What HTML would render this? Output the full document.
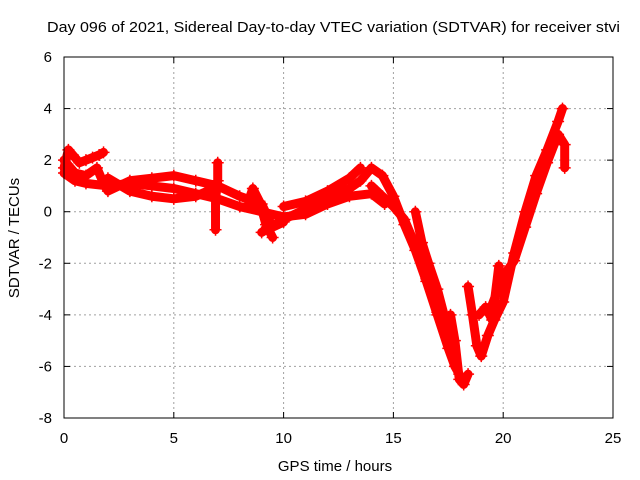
<!DOCTYPE html>
<html><head><meta charset="utf-8"><style>
body{margin:0;background:#fff;}
svg{display:block;font-family:"Liberation Sans",sans-serif;}
</style></head><body>
<svg id="chart" width="640" height="480">
<text x="47" y="32" font-size="15" textLength="573" lengthAdjust="spacingAndGlyphs">Day 096 of 2021, Sidereal Day-to-day VTEC variation (SDTVAR) for receiver stvi</text>
<g id="grid"></g>
<g id="ticks"></g>
<g id="marks"></g>
<rect x="64" y="57" width="549" height="361" fill="none" stroke="#000" stroke-width="1"/>
<text x="335" y="471" font-size="15" text-anchor="middle">GPS time / hours</text>
<text transform="translate(19,238) rotate(-90)" font-size="15" text-anchor="middle">SDTVAR / TECUs</text>
</svg>
<script>
const xTicks=[0,5,10,15,20,25];
const yTicks=[6,4,2,0,-2,-4,-6,-8];
const trackA_t=[0,0.2,0.4,0.7,1.0,1.3,1.6,1.8];
const trackA_v=[1.7,2.4,2.2,1.9,2.0,2.1,2.2,2.3];
const trackB_t=[0,0.5,1,2,3,4,5,6,7,8,9,10,11,12,13,14,14.6];
const trackB_v=[1.5,1.2,1.1,1.0,1.1,1.0,0.9,0.7,0.5,0.2,0.0,-0.2,-0.1,0.3,0.6,0.7,0.3];
const trackC_t=[0,0.5,1,1.5,1.8,2,3,4,5,6,7,8,9,9.5,10];
const trackC_v=[2.0,1.5,1.4,1.7,1.1,0.8,1.2,1.3,1.4,1.2,1.0,0.6,0.3,-0.6,-0.4];
const trackD_t=[2,3,4,5,6,6.8];
const trackD_v=[1.3,0.8,0.6,0.5,0.6,0.9];
const trackE_t=[9,10,11,12,13,13.5,14,14.5,15,15.5,16,16.5,17,17.5,17.8,18];
const trackE_v=[-0.8,-0.3,0.1,0.5,0.9,1.2,1.7,1.4,0.6,-0.5,-1.5,-2.7,-4.0,-5.3,-6.0,-6.3];
const trackF_t=[10,11,12,13,13.5];
const trackF_v=[0.2,0.4,0.8,1.3,1.7];
const trackG_t=[14,14.5,15,15.5,16,16.5,17,17.5,17.8];
const trackG_v=[1.0,0.6,0.2,-0.3,-1.3,-2.6,-3.9,-5.0,-5.7];
const trackH_t=[16,16.3,16.6,17,17.4,17.7];
const trackH_v=[0,-1.2,-2.0,-3.0,-4.3,-5.3];
const trackI_t=[17.6,17.8,18,18.2,18.4];
const trackI_v=[-4.0,-5.0,-6.5,-6.7,-6.3];
const trackJ_t=[18.4,18.6,18.8,19,19.3,19.6,20,20.5,21,21.5,22,22.5,22.7];
const trackJ_v=[-2.9,-4.0,-5.2,-5.6,-4.8,-4.2,-3.5,-1.6,0.0,1.4,2.4,3.5,4.0];
const trackK_t=[19.5,20,20.5,21,21.5,22,22.5,22.8,22.8];
const trackK_v=[-3.6,-2.5,-1.9,-0.6,0.7,1.9,3.0,2.6,1.7];
const trackL_t=[6.9,6.9,7.0,7.0];
const trackL_v=[-0.7,0.5,1.2,1.9];
const trackM_t=[8.4,8.6,8.9,9.2,9.5];
const trackM_v=[0.4,0.9,0.4,-0.5,-1.0];
const trackN_t=[18.9,19.2,19.5,19.8,20.0];
const trackN_v=[-4.0,-3.7,-4.2,-2.1,-3.0];
const tracksT=[trackA_t,trackB_t,trackC_t,trackD_t,trackE_t,trackF_t,trackG_t,trackH_t,trackI_t,trackJ_t,trackK_t,trackL_t,trackM_t,trackN_t];
const tracksV=[trackA_v,trackB_v,trackC_v,trackD_v,trackE_v,trackF_v,trackG_v,trackH_v,trackI_v,trackJ_v,trackK_v,trackL_v,trackM_v,trackN_v];
const X0=64,X1=613,Y0=418,Y1=57;
function sx(t){return X0+(t-0)/(25-0)*(X1-X0);}
function sy(v){return Y0-(v+8)/(14)*(Y0-Y1);}
const NS="http://www.w3.org/2000/svg";
function mk(tag,attrs,parent){const e=document.createElementNS(NS,tag);for(const k in attrs)e.setAttribute(k,attrs[k]);parent.appendChild(e);return e;}
const grid=document.getElementById('grid'),ticks=document.getElementById('ticks'),marks=document.getElementById('marks');
xTicks.forEach(t=>{const x=sx(t);
 if(t>0&&t<25){const g=mk('line',{x1:x,x2:x,y1:Y1,y2:Y0,stroke:'#a0a0a0','stroke-dasharray':'2,3'},grid);
 
 }
 mk('line',{x1:x,x2:x,y1:Y0,y2:Y0-6,stroke:'#000'},ticks);mk('line',{x1:x,x2:x,y1:Y1,y2:Y1+6,stroke:'#000'},ticks);
 const l=mk('text',{x:x,y:443,'font-size':15,'text-anchor':'middle'},ticks);l.textContent=t;
 
 });
yTicks.forEach(v=>{const y=sy(v);
 if(v>-8&&v<6){const g=mk('line',{x1:X0,x2:X1,y1:y,y2:y,stroke:'#a0a0a0','stroke-dasharray':'2,3'},grid);
 
 }
 mk('line',{x1:X0,x2:X0+6,y1:y,y2:y,stroke:'#000'},ticks);mk('line',{x1:X1,x2:X1-6,y1:y,y2:y,stroke:'#000'},ticks);
 const l=mk('text',{x:52,y:y+5,'font-size':15,'text-anchor':'end'},ticks);l.textContent=v;
 
 });
tracksT.forEach((ts,i)=>{const vs=tracksV[i];
 const pts=ts.map((t,j)=>sx(t)+','+sy(vs[j])).join(' ');
 const pl=mk('polyline',{points:pts,fill:'none',stroke:'#f00','stroke-width':9,'stroke-linejoin':'round','stroke-linecap':'round'},marks);
 
 
 ts.forEach((t,j)=>{const x=sx(t),y=sy(vs[j]);
  const p=mk('path',{d:`M${x-6},${y}H${x+6}M${x},${y-6}V${y+6}`,stroke:'#f00','stroke-width':1.5},marks);
  
  });});
</script>
</body></html>
